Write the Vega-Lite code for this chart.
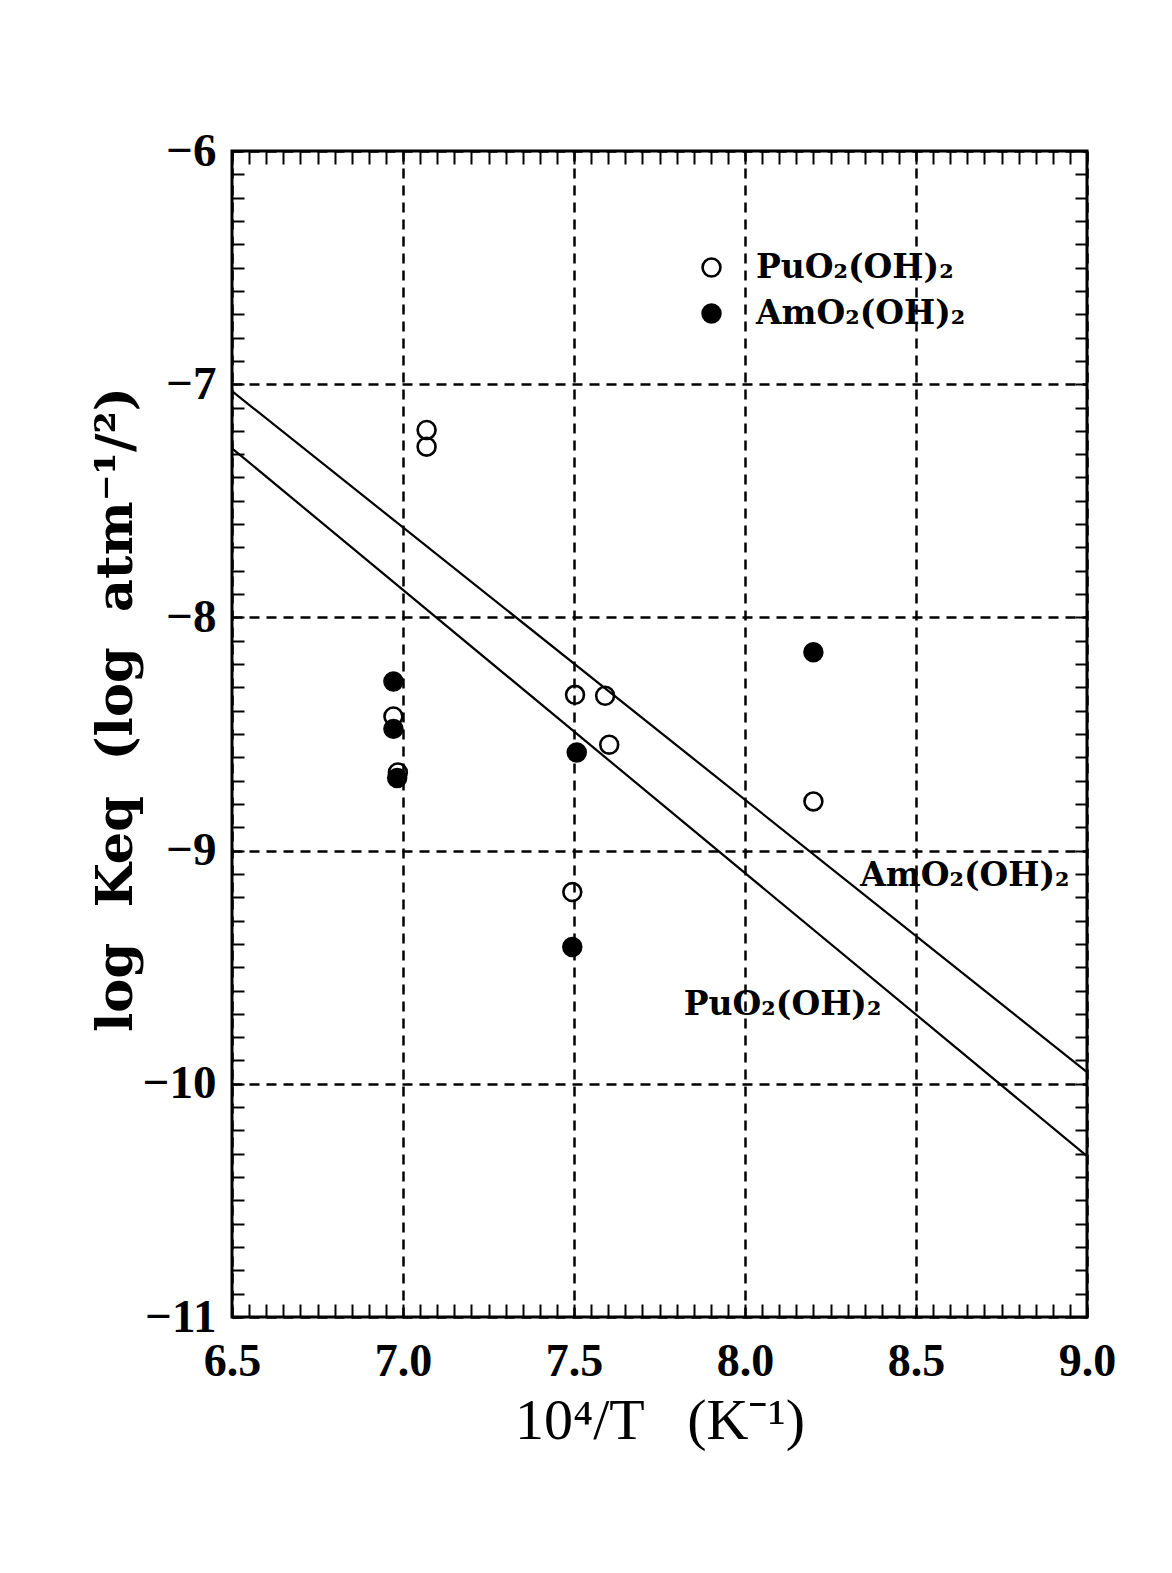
{
  "$schema": "https://vega.github.io/schema/vega-lite/v6.json",
  "width": 855,
  "height": 1166,
  "autosize": {"type": "none"},
  "padding": {"left": 232, "top": 151, "right": 85, "bottom": 256},
  "background": "white",
  "config": {
    "view": {"stroke": "black", "strokeWidth": 3},
    "axis": {"domain": false}
  },
  "resolve": {"axis": {"x": "independent", "y": "independent"}},
  "layer": [
    {
      "data": {"values": [
        {"fit": "Am", "x": 6.5, "y": -7.03},
        {"fit": "Am", "x": 9.0, "y": -9.95},
        {"fit": "Pu", "x": 6.5, "y": -7.275},
        {"fit": "Pu", "x": 9.0, "y": -10.31}
      ]},
      "mark": {"type": "line", "color": "black", "strokeWidth": 2.2},
      "encoding": {
        "x": {"field": "x", "type": "quantitative",
          "scale": {"domain": [6.5, 9], "nice": false, "zero": false},
          "axis": {"orient": "bottom", "values": [6.5, 7, 7.5, 8, 8.5, 9], "format": ".1f",
            "ticks": false, "labelPadding": 22, "labelFont": "Liberation Serif", "labelFontWeight": "bold",
            "labelFontSize": 46, "labelColor": "black", "labelFlush": false, "labelOverlap": false,
            "grid": true, "gridColor": "black", "gridDash": [10, 7], "gridWidth": 2.5, "gridOpacity": 1,
            "title": "10⁴/T \u00a0\u00a0(K⁻¹)", "titleFont": "Liberation Serif", "titleFontSize": 58,
            "titleFontWeight": "normal", "titleColor": "black", "titlePadding": 8}},
        "y": {"field": "y", "type": "quantitative",
          "scale": {"domain": [-11, -6], "nice": false, "zero": false},
          "axis": {"orient": "left", "values": [-11, -10, -9, -8, -7, -6], "format": "d",
            "ticks": false, "labelPadding": 16, "labelFont": "Liberation Serif", "labelFontWeight": "bold",
            "labelFontSize": 47, "labelColor": "black", "labelFlush": false, "labelOverlap": false,
            "grid": true, "gridColor": "black", "gridDash": [10, 7], "gridWidth": 2.5, "gridOpacity": 1,
            "title": "log \u00a0Keq \u00a0(log \u00a0atm⁻¹/²)", "titleFont": "DejaVu Serif", "titleFontSize": 51,
            "titleFontWeight": "bold", "titleColor": "black", "titleX": -116, "titleY": 558,
            "titleBaseline": "middle", "titleAngle": -90}},
        "detail": {"field": "fit", "type": "nominal"}
      }
    },
    {
      "data": {"values": [
        {"compound": "PuO₂(OH)₂", "x": 6.972, "y": -8.425},
        {"compound": "PuO₂(OH)₂", "x": 6.985, "y": -8.665},
        {"compound": "PuO₂(OH)₂", "x": 7.069, "y": -7.196},
        {"compound": "PuO₂(OH)₂", "x": 7.069, "y": -7.268},
        {"compound": "PuO₂(OH)₂", "x": 7.503, "y": -8.332},
        {"compound": "PuO₂(OH)₂", "x": 7.591, "y": -8.336},
        {"compound": "PuO₂(OH)₂", "x": 7.603, "y": -8.546},
        {"compound": "PuO₂(OH)₂", "x": 7.495, "y": -9.178},
        {"compound": "PuO₂(OH)₂", "x": 8.2, "y": -8.789},
        {"compound": "AmO₂(OH)₂", "x": 6.972, "y": -8.275},
        {"compound": "AmO₂(OH)₂", "x": 6.972, "y": -8.478},
        {"compound": "AmO₂(OH)₂", "x": 6.983, "y": -8.689},
        {"compound": "AmO₂(OH)₂", "x": 7.508, "y": -8.579},
        {"compound": "AmO₂(OH)₂", "x": 7.495, "y": -9.413},
        {"compound": "AmO₂(OH)₂", "x": 8.2, "y": -8.149}
      ]},
      "mark": {"type": "point", "shape": "circle", "filled": true, "size": 320, "stroke": "black", "strokeWidth": 2.6, "opacity": 1},
      "encoding": {
        "x": {"field": "x", "type": "quantitative",
          "scale": {"domain": [6.5, 9], "nice": false, "zero": false},
          "axis": {"orient": "bottom", "tickCount": 50, "labels": false, "ticks": true, "tickSize": -13,
            "tickWidth": 2, "tickColor": "black", "grid": false, "title": null}},
        "y": {"field": "y", "type": "quantitative",
          "scale": {"domain": [-11, -6], "nice": false, "zero": false},
          "axis": {"orient": "left", "tickCount": 50, "labels": false, "ticks": true, "tickSize": -12,
            "tickWidth": 2, "tickColor": "black", "grid": false, "title": null}},
        "fill": {"field": "compound", "type": "nominal",
          "scale": {"domain": ["PuO₂(OH)₂", "AmO₂(OH)₂"], "range": ["transparent", "black"]},
          "legend": {"orient": "none", "legendX": 463, "legendY": 100, "title": null,
            "symbolType": "circle", "symbolSize": 320, "symbolStrokeColor": "black", "symbolStrokeWidth": 2.6,
            "labelFont": "DejaVu Serif", "labelFontWeight": "bold", "labelFontSize": 33, "labelColor": "black",
            "labelOffset": 28, "rowPadding": 12, "labelLimit": 400, "padding": 0, "direction": "vertical"}}
      }
    },
    {
      "data": {"values": [
        {"label": "AmO₂(OH)₂", "x": 8.643, "y": -9.108},
        {"label": "PuO₂(OH)₂", "x": 8.11, "y": -9.662}
      ]},
      "mark": {"type": "text", "font": "DejaVu Serif", "fontWeight": "bold", "fontSize": 33, "color": "black", "align": "center", "baseline": "middle"},
      "encoding": {
        "x": {"field": "x", "type": "quantitative",
          "scale": {"domain": [6.5, 9], "nice": false, "zero": false},
          "axis": {"orient": "top", "tickCount": 50, "labels": false, "ticks": true, "tickSize": -13,
            "tickWidth": 2, "tickColor": "black", "grid": false, "title": null}},
        "y": {"field": "y", "type": "quantitative",
          "scale": {"domain": [-11, -6], "nice": false, "zero": false},
          "axis": {"orient": "right", "tickCount": 50, "labels": false, "ticks": true, "tickSize": -12,
            "tickWidth": 2, "tickColor": "black", "grid": false, "title": null}},
        "text": {"field": "label", "type": "nominal"}
      }
    }
  ]
}
